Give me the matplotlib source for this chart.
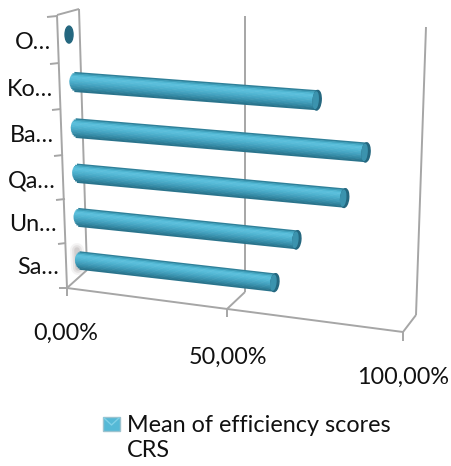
import matplotlib
matplotlib.use("Agg")
import matplotlib.pyplot as plt
from matplotlib.patches import Ellipse, Rectangle
import numpy as np

categories = ["Sa…", "Un…", "Qa…", "Ba…", "Ko…", "O…"]
values = [60.2, 66.8, 81.0, 87.2, 72.7, 0.3]
x_labels = ["0,00%", "50,00%", "100,00%"]
legend_label = "Mean of efficiency scores\nCRS"

plt.rcParams['font.family'] = ['Lato', 'DejaVu Sans']


# plane of the bars, in image pixels (the chart is a perspective 3D view)
def project(value, cat):
    value = np.asarray(value, dtype=float) / 100
    left_x = 75 - 1.4 * cat
    width = 332 + 2.2 * cat
    left_y = 260 - 42.6 * cat - 0.5 * cat**2
    right_y = 297.6 - 46 * cat - 0.4 * cat**2
    return left_x + width * value, left_y + (right_y - left_y) * value


def wall(ax, a, b):
    ax.plot([a[0], b[0]], [a[1], b[1]], color='#a6a6a6', lw=1.4, solid_capstyle='butt', zorder=1)


fig = plt.figure(figsize=(4.51, 4.66), dpi=100)
ax = fig.add_axes([0, 0, 1, 1])
ax.set_xlim(0, 451)
ax.set_ylim(466, 0)
ax.axis('off')

# Walls and floor
wall(ax, (57, 15), (67, 288))
wall(ax, (57, 15), (79, 9))
wall(ax, (79, 9), (87, 270))
wall(ax, (67, 288), (87, 270))
wall(ax, (67, 288), (403, 332))
wall(ax, (227, 309), (245, 292))
wall(ax, (245, 16), (245, 292))
wall(ax, (403, 332), (416, 315))
wall(ax, (416, 315), (426, 27))

# Ticks
for a, b in [((47, 17), (57, 16)), ((50, 64), (59, 63)), ((52, 110), (61, 109)),
             ((54, 156), (63, 155)), ((56, 200), (65, 199)), ((58, 244), (66, 243)),
             ((59, 288), (67, 288)), ((67, 288), (67, 296)), ((227, 309), (227, 317)),
             ((403, 332), (403, 341))]:
    wall(ax, a, b)

# Soft shadow behind the first bar
for w, al in [(10, 0.12), (7, 0.2), (4, 0.3)]:
    ax.plot([77, 78], [250, 268], color='#a8a2a2', lw=w, alpha=al, zorder=2, solid_capstyle='round')

# Cylinder shading, top edge to bottom edge
shades = ['#2f8099', '#3f9fba', '#4fb5d1', '#5abfdb', '#5abedb', '#55b9d6', '#4fb3d0', '#4aacc9',
          '#45a4c2', '#409cb9', '#3a93af', '#348aa5', '#2e7f99', '#2a748c']

for i, (name, val) in enumerate(zip(categories, values)):
    half = 9 + 0.2 * i  # half thickness in pixels
    x0, y0 = project(0, i)
    x1, y1 = project(val, i)
    angle = np.degrees(np.arctan2(y1 - y0, x1 - x0))
    slope = (y1 - y0) / (x1 - x0)
    cap = half * 0.8
    if val > 5:
        # each band starts on the rim of the rounded left end
        for k, c in enumerate(shades):
            off = -half + (k + 0.5) * 2 * half / len(shades)
            start = cap * (1 - np.sqrt(1 - (off / half) ** 2))
            ax.plot([x0 + start, x1], [y0 + off + slope * start, y1 + off], color=c,
                    lw=2 * half / len(shades) * 0.72 + 0.4, solid_capstyle='butt', zorder=4)
        ax.add_patch(Ellipse((x1, y1), 8, 2 * half, angle=angle, color='#24677f', zorder=5))
        ax.add_patch(Ellipse((x1 - 1.5, y1), 5, 2 * half - 3, angle=angle, color='#3b93ae', zorder=5))
    else:
        ax.add_patch(Ellipse((x1, y1), 8, 17, color='#24677f', zorder=5))

    # Category labels hang off the left wall
    ax.text(x0 - 16.5, y0 + 8, name, ha='right', va='center', fontsize=16.8, color='#111111')

# X labels
for (px, py), lab in zip([(66, 333), (228, 357), (403, 377)], x_labels):
    ax.text(px, py, lab, ha='center', va='center', fontsize=16.8, color='#111111')

# Legend
ax.add_patch(Rectangle((103, 417), 17, 14, facecolor='#55b9d6', edgecolor='#9cc3cf', lw=1, zorder=3))
ax.plot([104, 111.5, 119], [418, 425, 418], color='#7fd0e6', lw=1, zorder=4)
ax.text(127, 438, legend_label, ha='left', va='center', fontsize=16.8, color='#111111', linespacing=1.2)

fig.savefig('out.png', dpi=100)
